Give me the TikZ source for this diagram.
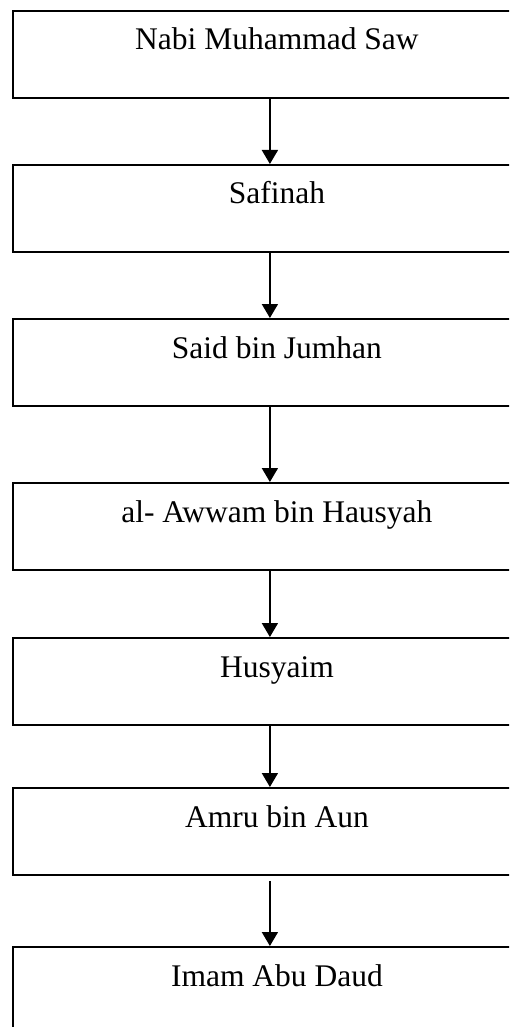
\documentclass[tikz,border=0pt]{standalone}
\usepackage{fontspec}
\setmainfont{Liberation Serif}
\usetikzlibrary{arrows.meta}
\begin{document}
\begin{tikzpicture}[x=1pt,y=1pt,
  boxstyle/.style={draw=black, line width=1.8pt, rectangle, minimum width=528pt, minimum height=87pt, inner sep=0pt, anchor=north west},
  lbl/.style={anchor=base, inner sep=0pt, font=\fontsize{31.5}{38}\selectfont},
  arr/.style={line width=1.8pt, -{Triangle[width=16pt,length=14pt]}}]
\path[use as bounding box] (0,0) rectangle (509,-1027);
\clip (0,0) rectangle (509,-1027);
\fill[white] (0,0) rectangle (509,-1027);
\node[boxstyle] (b1) at (12,-10) {};
\node[boxstyle] (b2) at (12,-164) {};
\node[boxstyle] (b3) at (12,-318) {};
\node[boxstyle] (b4) at (12,-482) {};
\node[boxstyle] (b5) at (12,-637) {};
\node[boxstyle] (b6) at (12,-787) {};
\node[boxstyle] (b7) at (12,-946) {};
\node[lbl] (t1) at ([yshift=-40pt]b1.north) {Nabi Muhammad Saw};
\node[lbl] (t2) at ([yshift=-40pt]b2.north) {Safinah};
\node[lbl] (t3) at ([yshift=-40pt]b3.north) {Said bin Jumhan};
\node[lbl] (t4) at ([yshift=-40pt]b4.north) {al- Awwam bin Hausyah};
\node[lbl] (t5) at ([yshift=-40pt]b5.north) {Husyaim};
\node[lbl] (t6) at ([yshift=-40pt]b6.north) {Amru bin Aun};
\node[lbl] (t7) at ([yshift=-40pt]b7.north) {Imam Abu Daud};
\draw[arr] ([xshift=-7pt]b1.south) -- ([xshift=-7pt]b2.north);
\draw[arr] ([xshift=-7pt]b2.south) -- ([xshift=-7pt]b3.north);
\draw[arr] ([xshift=-7pt]b3.south) -- ([xshift=-7pt]b4.north);
\draw[arr] ([xshift=-7pt]b4.south) -- ([xshift=-7pt]b5.north);
\draw[arr] ([xshift=-7pt]b5.south) -- ([xshift=-7pt]b6.north);
\draw[arr] ([xshift=-7pt,yshift=-5pt]b6.south) -- ([xshift=-7pt]b7.north);
\end{tikzpicture}
\end{document}
